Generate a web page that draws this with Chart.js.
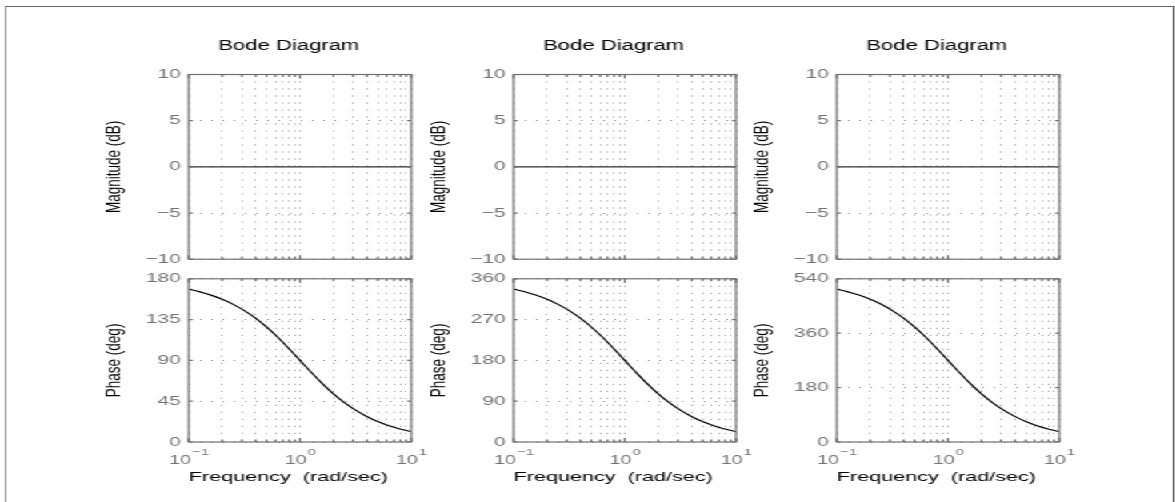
<!DOCTYPE html>
<html>
<head>
<meta charset="utf-8">
<script src="https://cdn.jsdelivr.net/npm/chart.js@4.4.1/dist/chart.umd.min.js"></script>
<style>
  html, body { margin: 0; padding: 0; background: #fff; overflow: hidden; }
  /* the figure is laid out narrow and stretched sideways, like the printed plot */
  #figure { position: absolute; left: 0; top: 0; width: 735px; height: 502px;
            transform: scaleX(1.6); transform-origin: 0 0; }
  #frame { position: absolute; left: 2.6px; top: 6px; width: 731px; height: 540px; box-sizing: border-box;
           border-left: 1px solid #8a8a8a; border-top: 1px solid #666; border-right: 1px solid #2a2a2a; }
  .panel { position: absolute; }
</style>
</head>
<body>
<div id="figure"><div id="frame"></div></div>
<script>
// frequency samples (rad/sec)
const freq = [0.1, 0.126, 0.158, 0.2, 0.251, 0.316, 0.398, 0.5, 0.631, 0.794, 1,
              1.26, 1.58, 2, 2.51, 3.16, 3.98, 5, 6.31, 7.94, 10];
// magnitude is flat for every system
const magnitudeDb = [0, 0, 0, 0, 0, 0, 0, 0, 0, 0, 0, 0, 0, 0, 0, 0, 0, 0, 0, 0, 0];
// phase of each system (deg)
const phaseA = [168.6, 165.6, 162.0, 157.4, 151.8, 144.9, 136.6, 126.9, 115.5, 103.1, 90,
                76.9, 64.7, 53.1, 43.4, 35.1, 28.2, 22.6, 18.0, 14.4, 11.4];
const phaseB = [337.2, 331.3, 324.1, 314.7, 303.6, 289.9, 273.2, 253.7, 231.0, 206.2, 180,
                153.8, 129.3, 106.3, 86.9, 70.2, 56.4, 45.2, 36.0, 28.7, 22.8];
const phaseC = [505.7, 496.9, 486.1, 472.1, 455.5, 434.8, 409.8, 380.6, 346.5, 309.3, 270,
                230.7, 194.0, 159.4, 130.3, 105.3, 84.7, 67.9, 54.0, 43.1, 34.3];

// tick values
const freqGrid = [0.1, 0.2, 0.3, 0.4, 0.5, 0.6, 0.7, 0.8, 0.9, 1, 2, 3, 4, 5, 6, 7, 8, 9, 10];
const freqDecades = [0.1, 1, 10];
const decadeExponents = ['\u22121', '0', '1'];
const magTicks = [-10, -5, 0, 5, 10];
const phaseTicksA = [0, 45, 90, 135, 180];
const phaseTicksB = [0, 90, 180, 270, 360];
const phaseTicksC = [0, 180, 360, 540];

const titleText = 'Bode Diagram';
const xTitle = 'Frequency  (rad/sec)';
const magTitle = 'Magnitude (dB)';
const phaseTitle = 'Phase (deg)';

const FONT = "'Liberation Sans', Arial, Helvetica, sans-serif";
const tickColor = '#747474';
const gridColor = '#9a9a9a';
const boxColor = '#707070';

// layout (unstretched px)
const colLeft = [117.5, 320.6, 523.1];
const YW = 56, PLOT_W = 139, PAD_R = 30;
const CANVAS_W = YW + PLOT_W + PAD_R;

const figure = document.getElementById('figure');

// box around the axes with inward tick marks on all sides
const axesBox = {
  id: 'axesBox',
  afterDraw(chart) {
    const { ctx, chartArea: a, scales: { x, y } } = chart;
    ctx.save();
    ctx.strokeStyle = boxColor;
    ctx.lineWidth = 1.2;
    ctx.setLineDash([]);
    ctx.beginPath();
    x.ticks.forEach(t => {
      const px = x.getPixelForValue(t.value);
      const len = freqDecades.includes(t.value) ? 4 : 2.5;
      ctx.moveTo(px, a.top); ctx.lineTo(px, a.top + len);
      ctx.moveTo(px, a.bottom); ctx.lineTo(px, a.bottom - len);
    });
    y.ticks.forEach(t => {
      const py = y.getPixelForValue(t.value);
      ctx.moveTo(a.left, py); ctx.lineTo(a.left + 2.5, py);
      ctx.moveTo(a.right, py); ctx.lineTo(a.right - 2.5, py);
    });
    ctx.stroke();
    ctx.strokeRect(a.left, a.top, a.right - a.left, a.bottom - a.top);
    ctx.restore();
  }
};

// "10" with a raised exponent under each decade
const decadeLabels = {
  id: 'decadeLabels',
  afterDraw(chart, args, opts) {
    if (!opts.show) return;
    const { ctx, chartArea: a, scales: { x } } = chart;
    const baseFont = '12.5px ' + FONT, expFont = '9.5px ' + FONT;
    ctx.save();
    ctx.fillStyle = tickColor;
    ctx.textAlign = 'left';
    ctx.textBaseline = 'alphabetic';
    freqDecades.forEach((v, i) => {
      const px = x.getPixelForValue(v);
      ctx.font = baseFont;
      const wb = ctx.measureText('10').width;
      ctx.font = expFont;
      const we = ctx.measureText(decadeExponents[i]).width;
      const x0 = px - (wb + we) / 2;
      ctx.font = baseFont;
      ctx.fillText('10', x0, a.bottom + 21.5);
      ctx.font = expFont;
      ctx.fillText(decadeExponents[i], x0 + wb + 0.5, a.bottom + 13);
    });
    ctx.restore();
  }
};

// panel heading, a little left of the axes centre
const panelTitle = {
  id: 'panelTitle',
  afterDraw(chart, args, opts) {
    if (!opts.text) return;
    const { ctx, chartArea: a } = chart;
    ctx.save();
    ctx.font = '13.8px ' + FONT;
    ctx.fillStyle = '#000';
    ctx.textAlign = 'center';
    ctx.textBaseline = 'middle';
    ctx.fillText(opts.text, (a.left + a.right) / 2 - 7, 46);
    ctx.restore();
  }
};

function addCanvas(left, top, width, height) {
  const box = document.createElement('div');
  box.className = 'panel';
  box.style.left = left + 'px';
  box.style.top = top + 'px';
  const c = document.createElement('canvas');
  c.width = width;
  c.height = height;
  box.appendChild(c);
  figure.appendChild(box);
  return c;
}

function yTick(v) {
  return v < 0 ? '\u2212' + (-v) : String(v);
}

function makePanel(col, kind, values, yTicks, yTitle) {
  const isMag = kind === 'mag';
  const top = isMag ? 0 : 266;
  const height = isMag ? 272 : 236;
  const canvas = addCanvas(colLeft[col] - YW, top, CANVAS_W, height);

  return new Chart(canvas, {
    type: 'line',
    data: {
      datasets: [{
        data: freq.map((f, i) => ({ x: f, y: values[i] })),
        borderColor: isMag ? '#333' : '#000',
        borderWidth: isMag ? 1.1 : 1.2,
        pointRadius: 0,
        cubicInterpolationMode: 'monotone',
        fill: false
      }]
    },
    options: {
      responsive: false,
      animation: false,
      events: [],
      layout: { padding: { top: isMag ? 74.5 : 10, right: PAD_R, left: 0, bottom: 0 } },
      plugins: {
        legend: { display: false },
        tooltip: { enabled: false },
        panelTitle: { text: isMag ? titleText : '' },
        decadeLabels: { show: !isMag }
      },
      scales: {
        x: {
          type: 'logarithmic',
          min: 0.1,
          max: 10,
          afterBuildTicks: s => { s.ticks = freqGrid.map(v => ({ value: v })); },
          afterFit: s => { s.height = isMag ? 10 : 60; },
          ticks: { autoSkip: false, maxRotation: 0, callback: () => '' },
          grid: { color: gridColor, lineWidth: 1, drawTicks: false },
          border: { display: false, dash: [1, 6] },
          title: {
            display: !isMag,
            text: xTitle,
            align: 'start',
            color: '#000',
            font: { family: FONT, size: 13.5 },
            padding: { top: 0, bottom: 17 }
          }
        },
        y: {
          type: 'linear',
          min: yTicks[0],
          max: yTicks[yTicks.length - 1],
          afterBuildTicks: s => { s.ticks = yTicks.map(v => ({ value: v })); },
          afterFit: s => { s.width = YW; },
          ticks: { color: tickColor, padding: 5, font: { family: FONT, size: 13 }, callback: yTick },
          grid: { color: gridColor, lineWidth: 1, drawTicks: false },
          border: { display: false, dash: [1, 6] },
          title: {
            display: true,
            text: yTitle,
            color: '#000',
            font: { family: FONT, size: 13.5 },
            padding: { top: 1.5, bottom: 0 }
          }
        }
      }
    },
    plugins: [axesBox, decadeLabels, panelTitle]
  });
}

makePanel(0, 'mag', magnitudeDb, magTicks, magTitle);
makePanel(1, 'mag', magnitudeDb, magTicks, magTitle);
makePanel(2, 'mag', magnitudeDb, magTicks, magTitle);
makePanel(0, 'phase', phaseA, phaseTicksA, phaseTitle);
makePanel(1, 'phase', phaseB, phaseTicksB, phaseTitle);
makePanel(2, 'phase', phaseC, phaseTicksC, phaseTitle);
</script>
</body>
</html>
